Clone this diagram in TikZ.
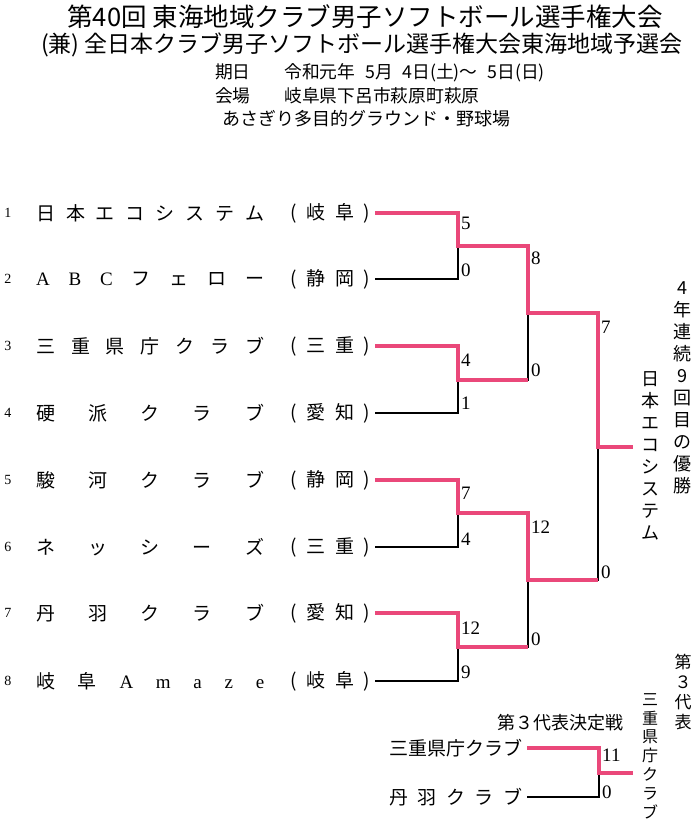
\documentclass[tikz,border=0pt]{standalone}
\usepackage{fontspec}
\newfontfamily\jpfont{Noto Sans CJK JP}
\newfontfamily\angkafont{Liberation Serif}
\definecolor{merah}{RGB}{234,72,122}
\newcommand\rata[2]{\makebox[#1][s]{#2}}
\newcommand\hlatin[1]{{\angkafont #1}}

\begin{document}
\begin{tikzpicture}[x=1pt,y=-1pt,
      judul/.style={inner sep=0pt,font=\jpfont\fontsize{25.5}{28}\selectfont},
      info/.style={anchor=west,inner sep=0pt,font=\jpfont\fontsize{17.75}{20}\selectfont},
      tim/.style={anchor=west,inner sep=0pt,font=\jpfont\fontsize{19}{22}\selectfont},
      asal/.style={tim,inner xsep=5pt},
      nomor/.style={inner sep=0pt,font=\angkafont\fontsize{14}{16}\selectfont},
      skor/.style={anchor=west,inner sep=0pt,font=\angkafont\fontsize{19}{21}\selectfont},
      tegak/.style={align=center,inner sep=0pt,font=\jpfont\fontsize{18}{22}\selectfont},
      kalah/.style={draw,line width=1.4pt},
      menang/.style={draw=merah,line width=4.2pt}]

    \useasboundingbox (0,0) rectangle (700,822);

    % --- Judul dan keterangan turnamen -------------------------------------
    \node[judul] (judula) at (365,17)
      {第40回 東海地域クラブ男子ソフトボール選手権大会};
    \node[judul,font=\jpfont\fontsize{23}{26}\selectfont] (judulb) at (362,45)
      {(兼) 全日本クラブ男子ソフトボール選手権大会東海地域予選会};
    \node[info] (tanggal) at (215,73)
      {期日\hspace{1.9em}令和元年\hspace{0.55em}5月\hspace{0.55em}4日(土)～\hspace{0.55em}5日(日)};
    \node[info] (tempat) at (215,96) {会場\hspace{1.9em}岐阜県下呂市萩原町萩原};
    \node[info,font=\jpfont\fontsize{18}{20}\selectfont] (lapangan) at (222,119)
      {あさぎり多目的グラウンド・野球場};

    % --- Peserta: nomor undian, nama tim, prefektur -------------------------
    \node[nomor] (n1) at (8,213) {1};
    \node[tim] (t1) at (36,213) {\rata{228pt}{日 本 エ コ シ ス テ ム}};
    \node[asal] (p1) at (285,213) {\rata{80pt}{( 岐 阜 )}};
    \node[nomor] (n2) at (8,279) {2};
    \node[tim] (t2) at (36,279) {\rata{228pt}{\hlatin{A} \hlatin{B} \hlatin{C} フ ェ ロ ー}};
    \node[asal] (p2) at (285,279) {\rata{80pt}{( 静 岡 )}};
    \node[nomor] (n3) at (8,346) {3};
    \node[tim] (t3) at (36,346) {\rata{228pt}{三 重 県 庁 ク ラ ブ}};
    \node[asal] (p3) at (285,346) {\rata{80pt}{( 三 重 )}};
    \node[nomor] (n4) at (8,413) {4};
    \node[tim] (t4) at (36,413) {\rata{228pt}{硬 派 ク ラ ブ}};
    \node[asal] (p4) at (285,413) {\rata{80pt}{( 愛 知 )}};
    \node[nomor] (n5) at (8,480) {5};
    \node[tim] (t5) at (36,480) {\rata{228pt}{駿 河 ク ラ ブ}};
    \node[asal] (p5) at (285,480) {\rata{80pt}{( 静 岡 )}};
    \node[nomor] (n6) at (8,547) {6};
    \node[tim] (t6) at (36,547) {\rata{228pt}{ネ ッ シ ー ズ}};
    \node[asal] (p6) at (285,547) {\rata{80pt}{( 三 重 )}};
    \node[nomor] (n7) at (8,613) {7};
    \node[tim] (t7) at (36,613) {\rata{228pt}{丹 羽 ク ラ ブ}};
    \node[asal] (p7) at (285,613) {\rata{80pt}{( 愛 知 )}};
    \node[nomor] (n8) at (8,681) {8};
    \node[tim] (t8) at (36,681)
      {\rata{228pt}{岐 阜 \hlatin{A} \hlatin{m} \hlatin{a} \hlatin{z} \hlatin{e}}};
    \node[asal] (p8) at (285,681) {\rata{80pt}{( 岐 阜 )}};

    % --- Titik temu tiap pertandingan ---------------------------------------
    \coordinate (m1) at (458,246);
    \coordinate (m2) at (458,380);
    \coordinate (m3) at (458,513);
    \coordinate (m4) at (458,647);
    \coordinate (m5) at (528,313);
    \coordinate (m6) at (528,580);
    \coordinate (m7) at (598,447);
    \coordinate (juara) at (633,447);

    % --- Garis bagan --------------------------------------------------------
    % Jalur yang kalah digambar hitam lebih dulu.
    \draw[kalah] (p2.east) -| (m1);
    \draw[kalah] (p4.east) -| (m2);
    \draw[kalah] (p6.east) -| (m3);
    \draw[kalah] (p8.east) -| (m4);
    \draw[kalah] (m2) -| (m5);
    \draw[kalah] (m4) -| (m6);
    \draw[kalah] (m6) -| (m7);
    % Jalur pemenang (merah) menimpa garis hitam.
    \draw[menang] (p1.east) -| (m1) -| (m5) -| (m7) -- (juara);
    \draw[menang] (p3.east) -| (m2) -- (m2 -| m5);
    \draw[menang] (p5.east) -| (m3) -| (m6) -- (m6 -| m7);
    \draw[menang] (p7.east) -| (m4) -- (m4 -| m6);

    % --- Skor ---------------------------------------------------------------
    \node[skor] (s1a) at (461,223) {5};
    \node[skor] (s1b) at (461,270) {0};
    \node[skor] (s2a) at (461,360) {4};
    \node[skor] (s2b) at (461,403) {1};
    \node[skor] (s3a) at (461,493) {7};
    \node[skor] (s3b) at (461,539) {4};
    \node[skor] (s4a) at (461,628) {12};
    \node[skor] (s4b) at (461,672) {9};
    \node[skor] (s5a) at (531,258) {8};
    \node[skor] (s5b) at (531,370) {0};
    \node[skor] (s6a) at (531,527) {12};
    \node[skor] (s6b) at (531,639) {0};
    \node[skor] (s7a) at (601,327) {7};
    \node[skor] (s7b) at (601,572) {0};

    % --- Keterangan juara, ditulis tegak ------------------------------------
    \node[tegak] (gelar) at (682,388) {4\\年\\連\\続\\9\\回\\目\\の\\優\\勝};
    \node[tegak] (juaranama) at (650,456) {日\\本\\エ\\コ\\シ\\ス\\テ\\ム};

    % --- Perebutan wakil ketiga ---------------------------------------------
    \node[judul,font=\jpfont\fontsize{18}{20}\selectfont] (perebutan) at (560,723)
      {第３代表決定戦};
    \node[tim,inner xsep=5pt] (k1) at (384,748) {三重県庁クラブ};
    \node[tim,inner xsep=5pt] (k2) at (384,797) {\rata{133pt}{丹 羽 ク ラ ブ}};
    \coordinate (m8) at (599,773);
    \coordinate (ujung) at (633,773);
    \draw[kalah] (k2.east) -| (m8);
    \draw[menang] (k1.east) -| (m8) -- (ujung);
    \node[skor] (s8a) at (602,755) {11};
    \node[skor] (s8b) at (602,792) {0};
    \node[tegak,font=\jpfont\fontsize{17}{19.7}\selectfont] (wakil) at (683,692)
      {第\\３\\代\\表};
    \node[tegak,font=\jpfont\fontsize{16}{18.8}\selectfont] (wakilnama) at (650,756)
      {三\\重\\県\\庁\\ク\\ラ\\ブ};
  \end{tikzpicture}
\end{document}
